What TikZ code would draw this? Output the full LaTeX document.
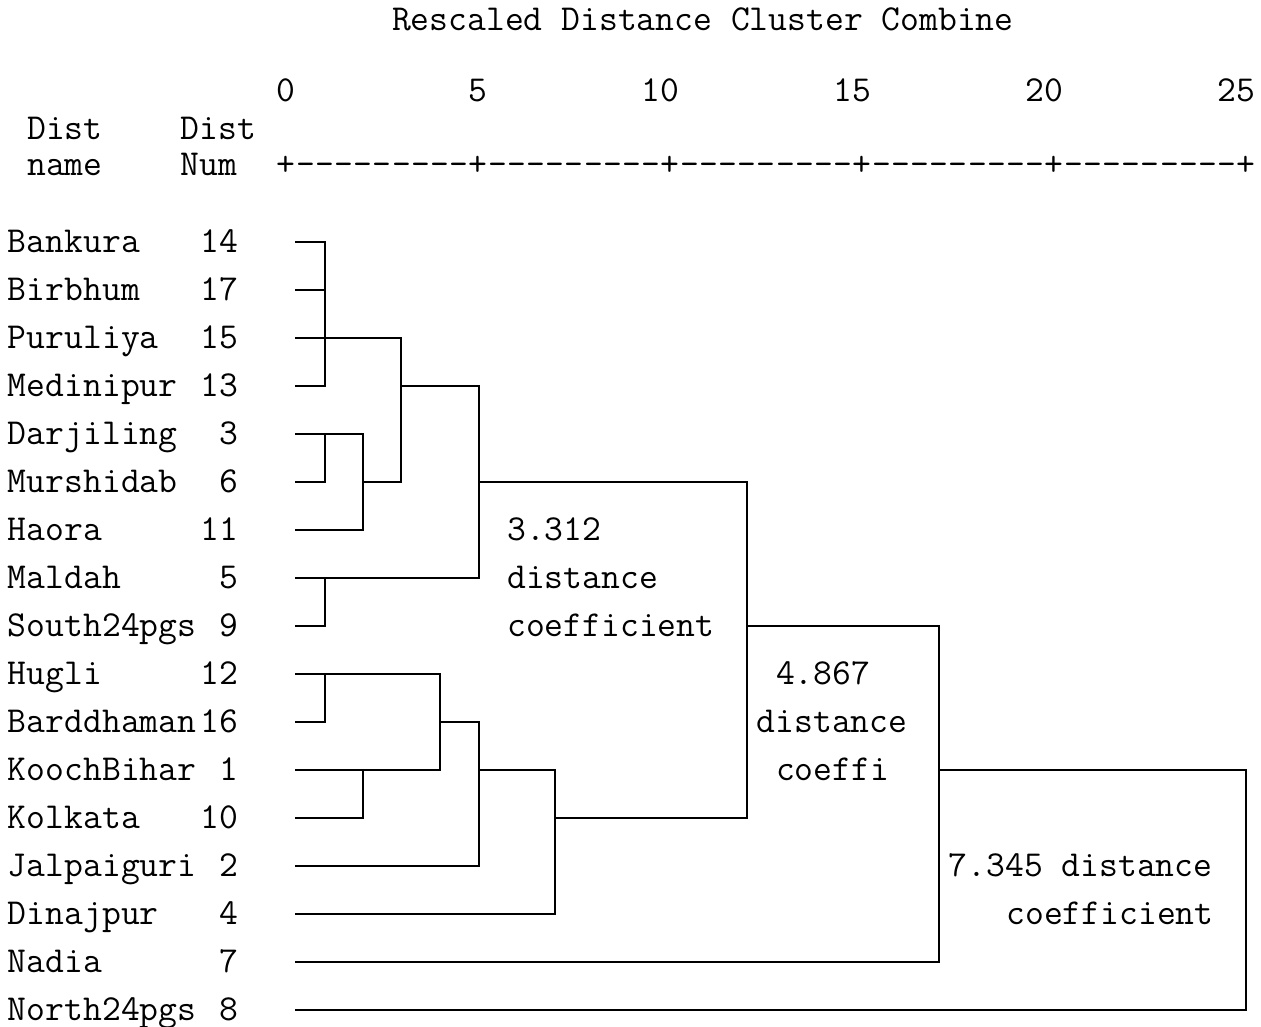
\documentclass[tikz,border=0pt]{standalone}
\usepackage{fontspec}
\tikzset{
  dl/.style={line width=2.6pt, line cap=rect, line join=miter},
  txt/.style={inner sep=0pt, outer sep=0pt, font=\ttfamily\fontsize{36.57}{40}\selectfont},
  lw/.style={txt, anchor=base west},
  le/.style={txt, anchor=base east}
}
\begin{document}
\begin{tikzpicture}[x=1pt,y=-1pt]
\useasboundingbox (0,0) rectangle (1261,1026);
% header
\node[lw] (title) at (392,30) {Rescaled Distance Cluster Combine};
\node[lw] (t0) at (276.8,101) {0};
\node[lw] (t5) at (468.8,101) {5};
\node[lw] (t10) at (641.6,101) {10};
\node[lw] (t15) at (833.6,101) {15};
\node[lw] (t20) at (1025.6,101) {20};
\node[lw] (t25) at (1217.6,101) {25};
\node[lw] (h1) at (27.2,139) {Dist};
\node[lw] (h2) at (180.8,139) {Dist};
\node[lw] (h3) at (27.2,175) {name};
\node[lw] (h4) at (180.8,175) {Num};
\foreach \i in {0,...,50} {
  \pgfmathtruncatemacro\m{mod(\i,10)}
  \ifnum\m=0 \def\ch{+}\else\def\ch{-}\fi
  \node[lw] (ax\i) at ({276.8+19.2*\i},175) {\ch};
}
% rows
\foreach \n/\num/\y [count=\i] in {Bankura/14/242, Birbhum/17/290, Puruliya/15/338,
  Medinipur/13/386, Darjiling/3/434, Murshidab/6/482, Haora/11/530, Maldah/5/578,
  South24pgs/9/626, Hugli/12/674, Barddhaman/16/722, KoochBihar/1/770, Kolkata/10/818,
  Jalpaiguri/2/866, Dinajpur/4/914, Nadia/7/962, North24pgs/8/1010} {
  \node[lw] (nm\i) at (8,\y+10) {\n};
  \node[le] (no\i) at (238.4,\y+10) {\num};
  \coordinate (a\i) at (296,\y);
}
% junction x levels
\coordinate (x1) at (325,0);
\coordinate (x2) at (363,0);
\coordinate (x3) at (401,0);
\coordinate (x4) at (440,0);
\coordinate (x5) at (479,0);
\coordinate (x6) at (555,0);
\coordinate (x7) at (747,0);
\coordinate (x8) at (939,0);
\coordinate (x9) at (1246,0);
% dendrogram
\draw[dl] (a1) -- (a1-|x1) -- (a4-|x1) -- (a4);
\draw[dl] (a2) -- (a2-|x1);
\draw[dl] (a3) -- (a3-|x3) -- (a6-|x3) -- (a6-|x2);
\draw[dl] (a5) -- (a5-|x2) -- (a7-|x2) -- (a7);
\draw[dl] (a5-|x1) -- (a6-|x1) -- (a6);
\draw[dl] (a4-|x3) -- (a4-|x5) -- (a8-|x5) -- (a8);
\draw[dl] (a8-|x1) -- (a9-|x1) -- (a9);
\draw[dl] (a6-|x5) -- (a6-|x7) -- (a13-|x7) -- (a13-|x6);
\draw[dl] (a10) -- (a10-|x4) -- (a12-|x4) -- (a12);
\draw[dl] (a10-|x1) -- (a11-|x1) -- (a11);
\draw[dl] (a12-|x2) -- (a13-|x2) -- (a13);
\draw[dl] (a11-|x4) -- (a11-|x5) -- (a14-|x5) -- (a14);
\draw[dl] (a12-|x5) -- (a12-|x6) -- (a15-|x6) -- (a15);
\draw[dl] (a9-|x7) -- (a9-|x8) -- (a16-|x8) -- (a16);
\draw[dl] (a12-|x8) -- (a12-|x9) -- (a17-|x9) -- (a17);
% annotations
\node[lw] (c1a) at (507.2,540) {3.312};
\node[lw] (c1b) at (507.2,588) {distance};
\node[lw] (c1c) at (507.2,636) {coefficient};
\node[lw] (c2a) at (776,684) {4.867};
\node[lw] (c2b) at (756.8,732) {distance};
\node[lw] (c2c) at (776,780) {coeffi};
\node[lw] (c3a) at (948.8,876) {7.345 distance};
\node[lw] (c3b) at (1006.4,924) {coefficient};
\end{tikzpicture}
\end{document}
